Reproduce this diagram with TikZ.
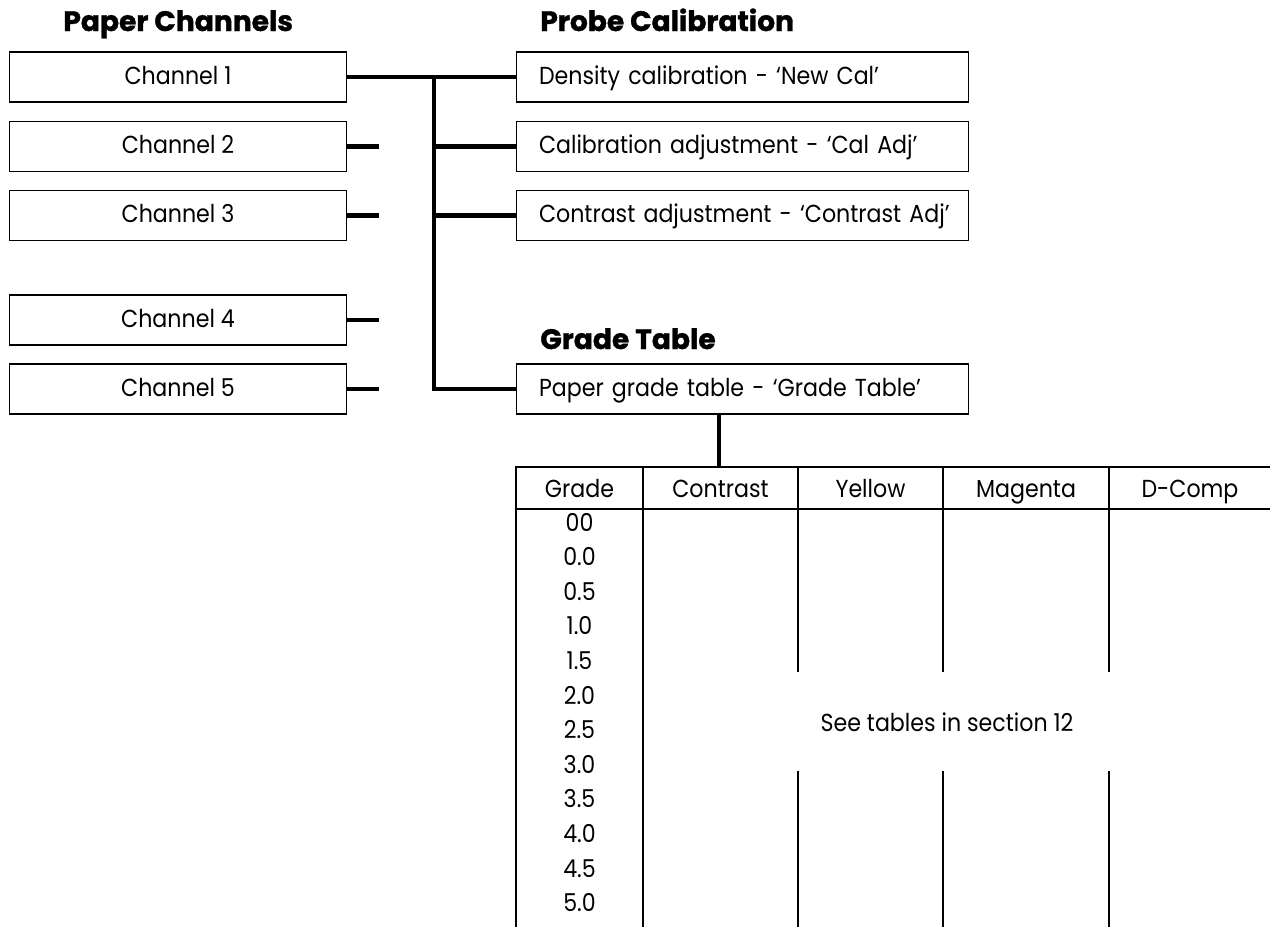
\documentclass[tikz,border=0pt]{standalone}
\usepackage{fontspec}
\setmainfont{Poppins}[FakeStretch=0.9]
\newfontfamily\headfont{Poppins}[BoldFeatures={FakeBold=1.2}]
\usetikzlibrary{positioning}

\tikzset{
  chanbox/.style={draw, line width=0.6pt, minimum width=6.76cm, minimum height=1.0cm, inner sep=0pt,
    text height=0.86em, text depth=0.04em},
  probebox/.style={draw, line width=0.6pt, minimum width=9.04cm, minimum height=1.0cm,
    text width=8.14cm, inner xsep=0.45cm, inner ysep=0pt, align=left,
    text height=0.86em, text depth=0.04em},
  heading/.style={font=\headfont\bfseries\fontsize{16}{18}\selectfont, inner sep=0pt, anchor=base west},
  cell/.style={anchor=base, inner sep=0pt},
  bus/.style={line width=2.5pt},
  grid/.style={line width=0.8pt},
}

\begin{document}
\begin{tikzpicture}[x=0.02cm, y=-0.02cm, every node/.style={font=\fontsize{14}{16}\selectfont}]
  \useasboundingbox (0,0) rectangle (1270,927);

  % headings
  \node[heading] (hdchan) at (63,31) {Paper Channels};
  \node[heading] (hdprobe) at (540,31) {Probe Calibration};
  \node[heading] (hdgrade) at (540,349) {Grade Table};

  % paper channels
  \node[chanbox] (ch1) at (178,77) {Channel 1};
  \node[chanbox] (ch2) at (178,146.5) {Channel 2};
  \node[chanbox] (ch3) at (178,215.5) {Channel 3};
  \node[chanbox] (ch4) at (178,320) {Channel 4};
  \node[chanbox] (ch5) at (178,389) {Channel 5};

  % probe calibration and grade table
  \node[probebox, anchor=west] (newcal) at (516,77) {Density calibration - ‘New Cal’};
  \node[probebox, anchor=west] (caladj) at (516,146.5) {Calibration adjustment - ‘Cal Adj’};
  \node[probebox, anchor=west] (conadj) at (516,215.5) {\mbox{Contrast adjustment - ‘Contrast Adj’}};
  \node[probebox, anchor=west] (gradetab) at (516,389) {\mbox{Paper grade table - ‘Grade Table’}};

  % connectors
  \coordinate (jtop) at (434,77);
  \coordinate (ttop) at (719,467);
  \draw[bus] (ch1.east) -- (newcal.west);
  \draw[bus] (jtop) |- (gradetab.west);
  \draw[bus] (jtop |- caladj.west) -- (caladj.west);
  \draw[bus] (jtop |- conadj.west) -- (conadj.west);
  \foreach \i in {2,...,5}
    \draw[bus] (ch\i.east) -- ++(32,0) coordinate (stub\i);
  \draw[bus] (ttop |- gradetab.south) -- (ttop);

  % table
  \draw[grid] (516,927) -- (516,467) -- (1270,467);
  \draw[grid] (516,509) -- (1270,509);
  \draw[grid] (643,467) -- (643,927);
  \foreach \cx in {798,943,1109} {
    \draw[grid] (\cx,467) -- (\cx,672);
    \draw[grid] (\cx,771) -- (\cx,927);
  }
  \node[cell] (thgrade) at (579.5,497) {Grade};
  \node[cell] (thcon) at (720.5,497) {Contrast};
  \node[cell] (thyel) at (870.5,497) {Yellow};
  \node[cell] (thmag) at (1026,497) {Magenta};
  \node[cell] (thdc) at (1190,497) {D-Comp};
  \foreach \g [count=\k from 0] in {00,0.0,0.5,1.0,1.5,2.0,2.5,3.0,3.5,4.0,4.5,5.0}
    \node[cell] (row\k) at (579.5,531+34.6*\k) {\g};
  \node[cell] (seetab) at (947,731) {See tables in section 12};
\end{tikzpicture}
\end{document}
